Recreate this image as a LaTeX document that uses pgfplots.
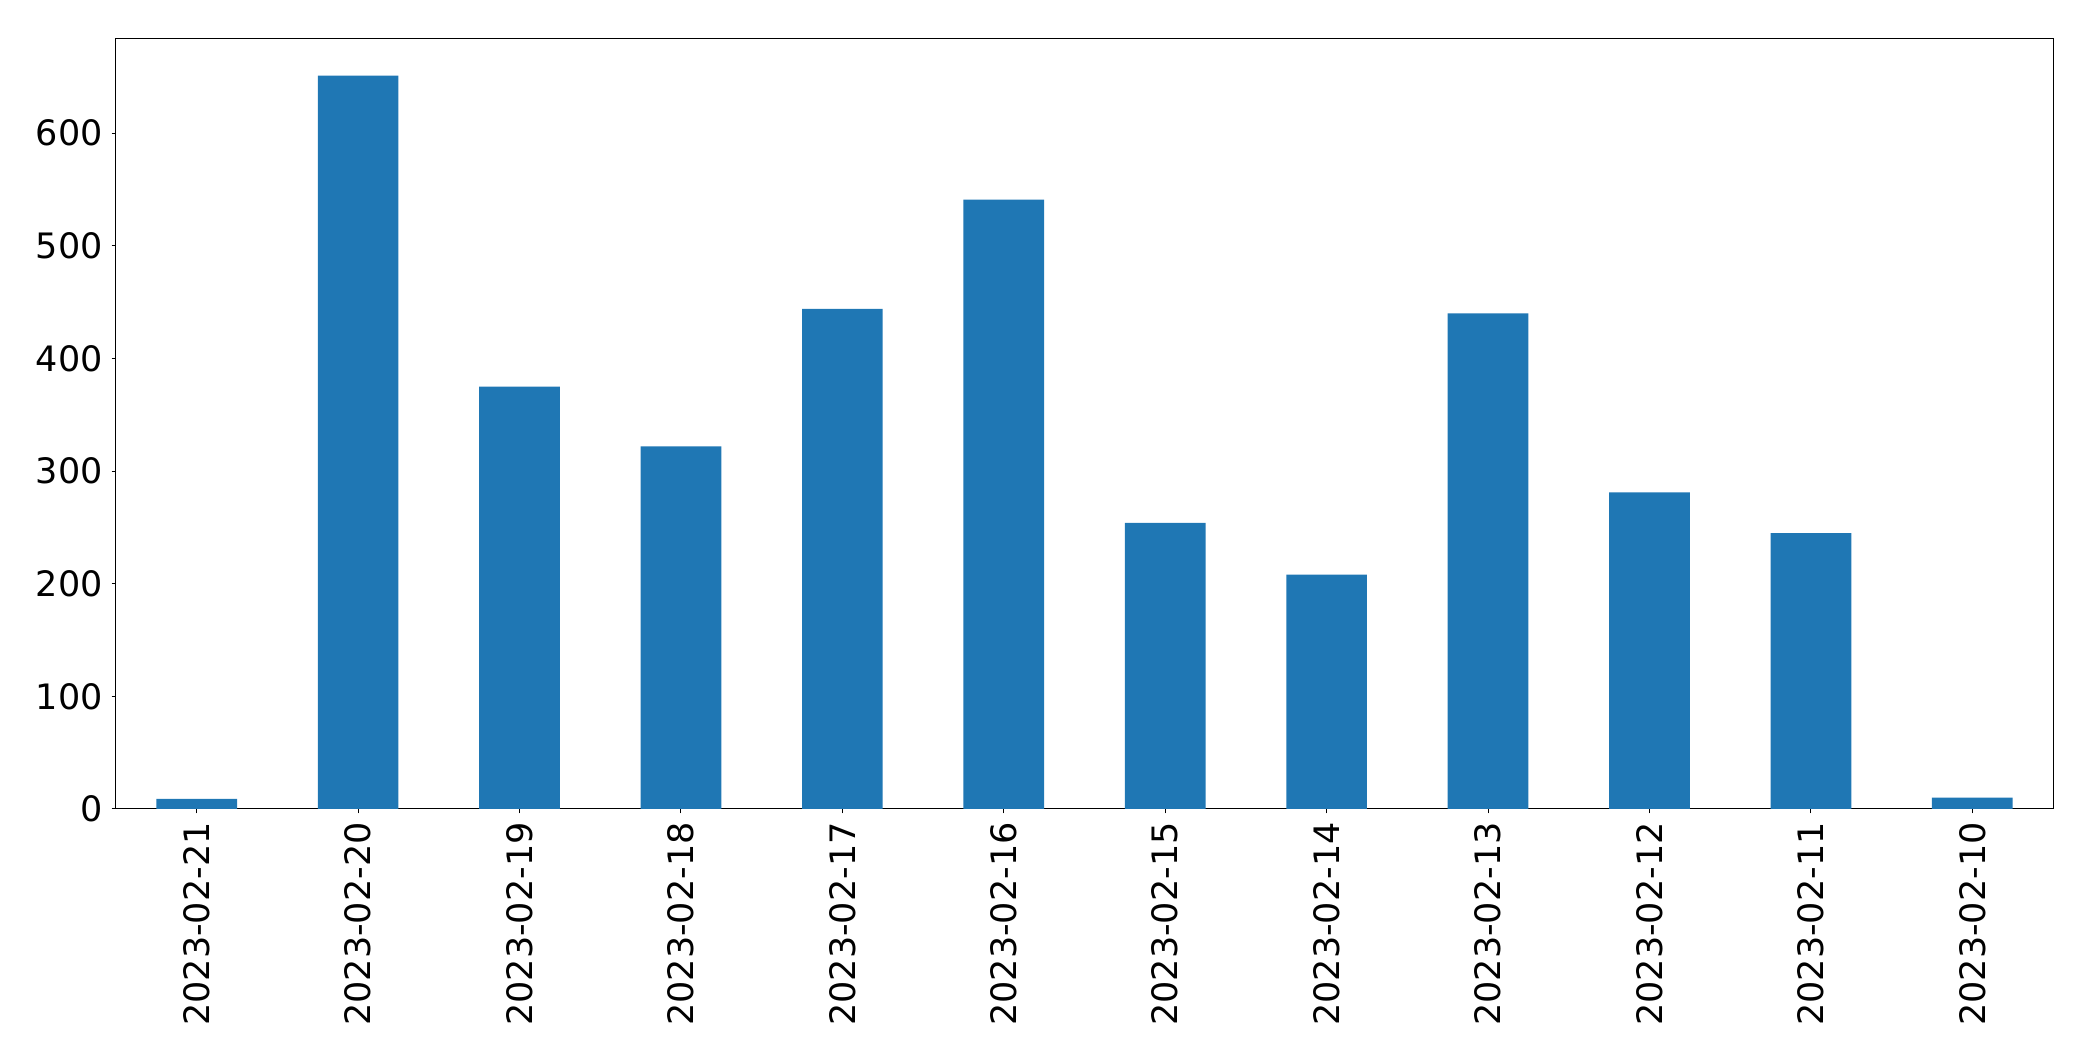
\documentclass[border=0pt]{standalone}
\usepackage{pgfplots}
\pgfplotsset{compat=1.18}
\usepackage{fontspec}
\setmainfont{DejaVu Sans}
\definecolor{mplblue}{HTML}{1F77B4}
\begin{document}
\begin{tikzpicture}
\path[use as bounding box] (-46.4pt,-100.8pt) rectangle (790.8pt,323.6pt);
\begin{axis}[
  at={(0,0)}, anchor=south west,
  scale only axis,
  width=774.8pt, height=308pt,
  xmin=-0.5, xmax=11.5,
  ymin=0, ymax=683.55,
  xtick={0,...,11},
  xticklabels={2023-02-21,2023-02-20,2023-02-19,2023-02-18,2023-02-17,2023-02-16,2023-02-15,2023-02-14,2023-02-13,2023-02-12,2023-02-11,2023-02-10},
  ytick={0,100,200,300,400,500,600},
  xticklabel style={rotate=90, anchor=east},
  tick label style={font=\fontsize{14}{17}\selectfont},
  /pgf/number format/assume math mode=true,
  tick align=outside,
  major tick length=1.8pt,
  tick style={black, line width=0.4pt},
  axis line style={line width=0.4pt},
  xtick pos=bottom, ytick pos=left,
  scaled y ticks=false,
]
\addplot[ybar, bar width=0.5, fill=mplblue, draw=none] coordinates {
(0,9) (1,651) (2,375) (3,322) (4,444) (5,541) (6,254) (7,208) (8,440) (9,281) (10,245) (11,10)
};
\end{axis}
\end{tikzpicture}
\end{document}
